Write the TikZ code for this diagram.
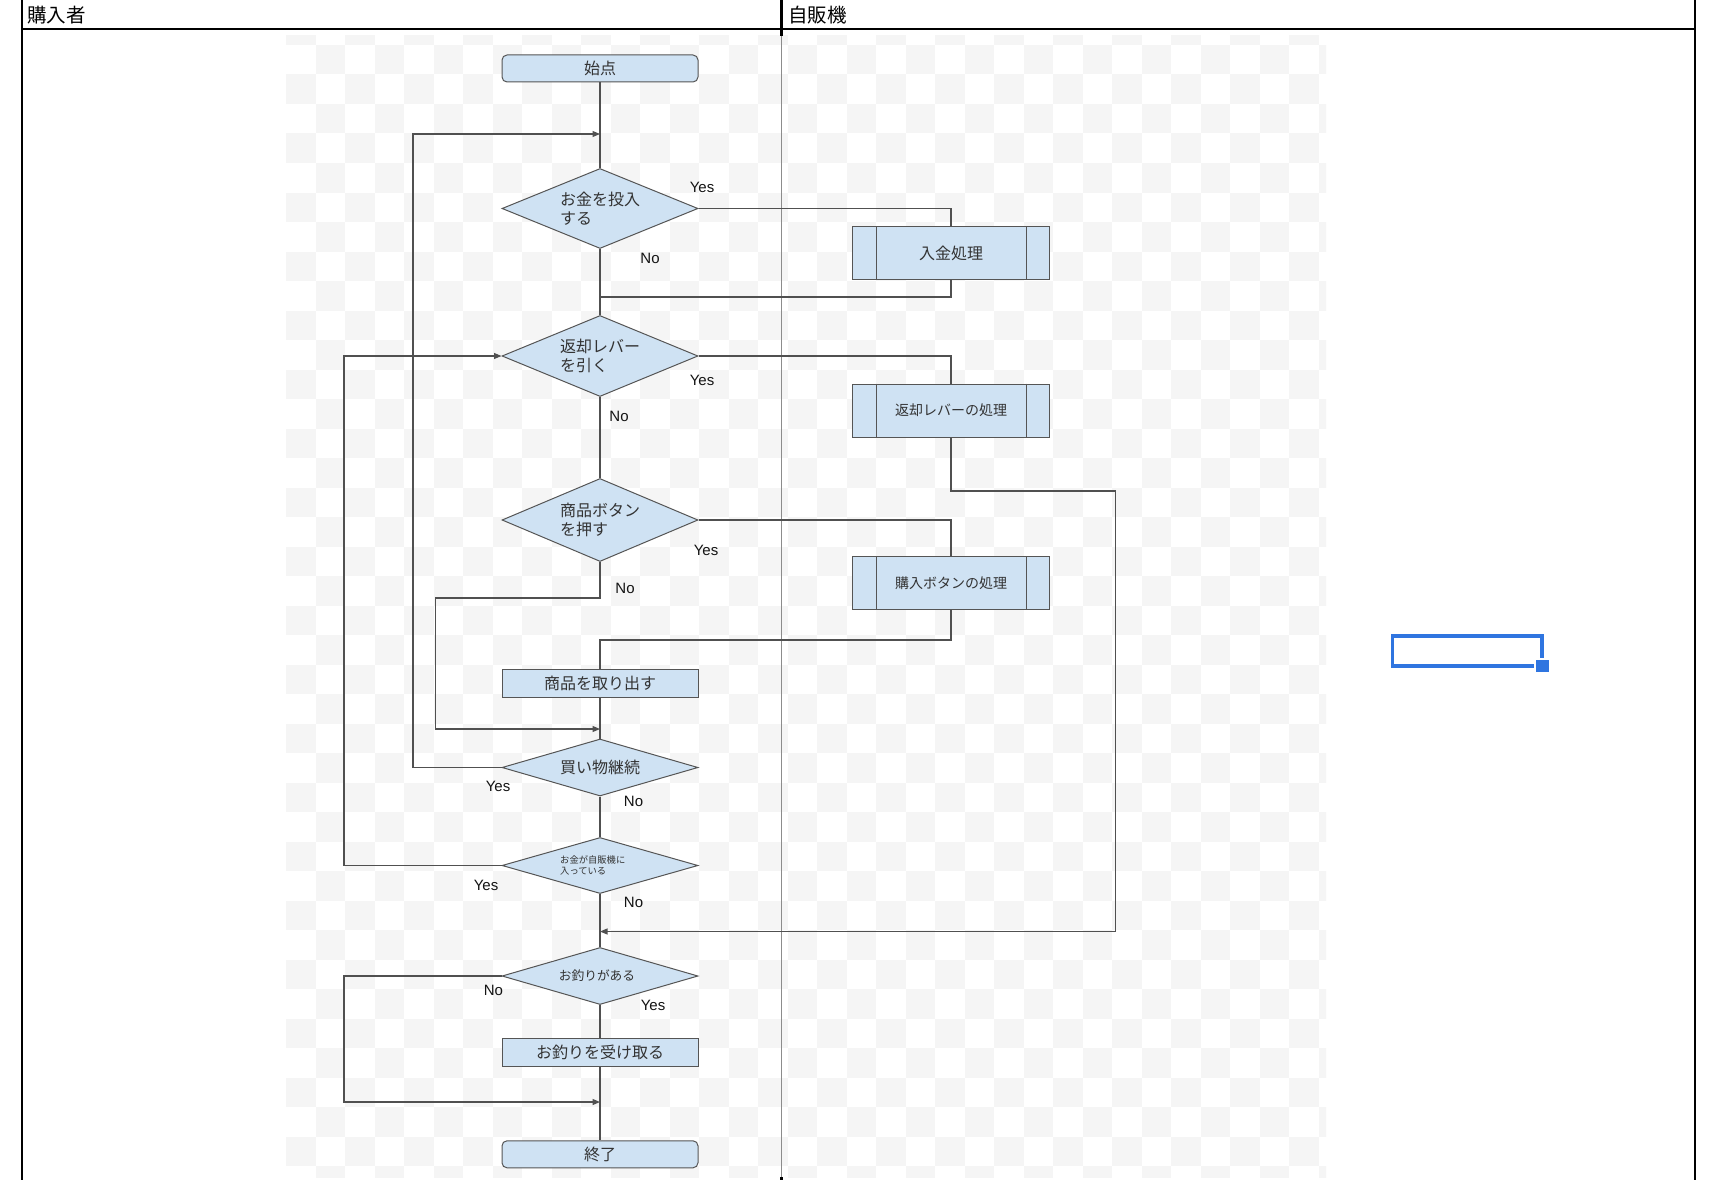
\documentclass[tikz,border=0pt]{standalone}
\usepackage{fontspec}
\setmainfont{Liberation Sans}
\newfontfamily\jp{Noto Sans CJK JP}
\usetikzlibrary{shapes.geometric,arrows.meta}
\definecolor{nfill}{RGB}{207,226,243}
\definecolor{bord}{RGB}{85,85,85}
\definecolor{lineg}{RGB}{80,80,80}
\definecolor{txt}{RGB}{51,51,51}
\definecolor{txtb}{RGB}{20,20,20}
\definecolor{chk}{RGB}{245,245,245}
\definecolor{midg}{RGB}{140,140,140}
\definecolor{selb}{RGB}{47,117,224}
\begin{document}
\begin{tikzpicture}[x=1pt,y=-1pt,
  conn/.style={draw=lineg, line width=1.1pt},
  arr/.style={conn, -{Triangle[length=7.5pt,width=6pt]}},
  base/.style={draw=bord, fill=nfill, line width=1pt, inner sep=0pt, text=txt},
  term/.style={base, rounded corners=5pt, minimum width=196pt, minimum height=27pt, font=\jp\fontsize{16}{19}\selectfont},
  boxn/.style={base, minimum width=196pt, minimum height=28pt, font=\jp\fontsize{16}{19}\selectfont},
  proc/.style={base, minimum width=197pt, minimum height=53pt},
  dia/.style={base, diamond, minimum width=196pt},
  jt/.style={font=\jp\fontsize{16}{19.5}\selectfont, text=txt, inner sep=0pt, align=left},
  yn/.style={font=\fontsize{15}{15}\selectfont, text=txtb, inner sep=0pt},
  hdr/.style={font=\jp\fontsize{19.5}{19.5}\selectfont, text=black, inner sep=0pt, anchor=west},
  border/.style={draw=black, line width=2.2pt}
]
\useasboundingbox (0,0) rectangle (1718,1180);
\fill[white] (0,0) rectangle (1718,1180);

% checkerboard image background
\begin{scope}
\clip (286,36) rectangle (1326,1177);
\foreach \r in {0,...,39} {
  \foreach \c in {0,...,35} {
    \pgfmathtruncatemacro\pp{mod(\r+\c,2)}
    \ifnum\pp=0
      \fill[chk] (286+29.5*\c,15.5+29.5*\r) rectangle +(29.5,29.5);
    \fi
  }
}
\end{scope}

% sheet borders
\draw[border] (22,0) -- (22,1180);
\draw[border] (1695,0) -- (1695,1180);
\draw[border] (22,29) -- (1695,29);
\draw[border] (781.5,0) -- (781.5,36);
\draw[border] (781.5,1177) -- (781.5,1180);
\draw[midg, line width=1.8pt] (781.5,36) -- (781.5,1177);

\node[hdr] (h1) at (27,15) {購入者};
\node[hdr] (h2) at (788,15) {自販機};

% nodes
\node[term] (start) at (600,68.5) {始点};
\node[dia, minimum height=80pt] (d1) at (600,208.5) {};
\node[jt, anchor=west] (t1) at (560,208.5) {お金を投入\\する};
\node[proc, font=\jp\fontsize{16}{19}\selectfont] (p1) at (951,253.3) {入金処理};
\node[dia, minimum height=81pt] (d2) at (600,356) {};
\node[jt, anchor=west] (t2) at (560,356) {返却レバー\\を引く};
\node[proc, font=\jp\fontsize{14}{17}\selectfont] (p2) at (951,410.5) {返却レバーの処理};
\node[dia, minimum height=83pt] (d3) at (600,520) {};
\node[jt, anchor=west] (t3) at (560,520) {商品ボタン\\を押す};
\node[proc, font=\jp\fontsize{14}{17}\selectfont] (p3) at (951,583) {購入ボタンの処理};
\node[boxn] (take) at (600,683.5) {商品を取り出す};
\node[dia, minimum height=57pt] (d4) at (600,767.5) {};
\node[jt] (t4) at (600,767.5) {買い物継続};
\node[dia, minimum height=56pt] (d5) at (600,865.5) {};
\node[jt, anchor=west, font=\jp\fontsize{9.3}{11}\selectfont] (t5) at (560,865.5) {お金が自販機に\\入っている};
\node[dia, minimum height=57pt] (d6) at (600,976) {};
\node[jt, font=\jp\fontsize{12.7}{15}\selectfont] (t6) at (597,976) {お釣りがある};
\node[boxn] (change) at (600,1052.5) {お釣りを受け取る};
\node[term] (end) at (600,1154.3) {終了};

\foreach \p in {p1,p2,p3} {
  \draw[bord, line width=1pt] ([xshift=24pt]\p.north west) -- ([xshift=24pt]\p.south west);
  \draw[bord, line width=1pt] ([xshift=-24pt]\p.north east) -- ([xshift=-24pt]\p.south east);
}

% helper coordinates
\coordinate (m1) at (600,134);
\coordinate (k1) at (413,134);
\coordinate (m2) at (600,297);
\coordinate (k2) at (344,356);
\coordinate (r1) at (1115.5,491);
\coordinate (m4) at (600,931.5);
\coordinate (m3) at (600,640);
\coordinate (n1) at (435.5,598);
\coordinate (m5) at (600,729);
\coordinate (k3) at (344,1102);
\coordinate (m6) at (600,1102);

% connectors
\draw[conn] (start.south) -- (d1.north);
\draw[arr] (d4.west) -| (k1) -- (m1);
\draw[conn] (d1.east) -| (p1.north);
\draw[conn] (d1.south) -- (d2.north);
\draw[conn] (p1.south) |- (m2);
\draw[conn] (d2.east) -| (p2.north);
\draw[conn] (d2.south) -- (d3.north);
\draw[arr] (p2.south) |- (r1) |- (m4);
\draw[conn] (d3.east) -| (p3.north);
\draw[conn] (p3.south) |- (m3) -- (take.north);
\draw[arr] (d3.south) |- (n1) |- (m5);
\draw[conn] (take.south) -- (d4.north);
\draw[conn] (d4.south) -- (d5.north);
\draw[arr] (d5.west) -| (k2) -- (d2.west);
\draw[conn] (d5.south) -- (d6.north);
\draw[conn] (d6.south) -- (change.north);
\draw[arr] (d6.west) -| (k3) -- (m6);
\draw[conn] (change.south) -- (end.north);

% Yes / No labels
\node[yn] (y1) at (702,187) {Yes};
\node[yn] (n1l) at (650,258) {No};
\node[yn] (y2) at (702,380) {Yes};
\node[yn] (n2l) at (619,416) {No};
\node[yn] (y3) at (706,550) {Yes};
\node[yn] (n3l) at (625,588) {No};
\node[yn] (y4) at (498,786) {Yes};
\node[yn] (n4l) at (633.5,801) {No};
\node[yn] (y5) at (486,885) {Yes};
\node[yn] (n5l) at (633.5,902) {No};
\node[yn] (n6l) at (493.5,990.7) {No};
\node[yn] (y6) at (653,1005.5) {Yes};

% selected cell marker
\node[draw=selb, line width=3.8pt, minimum width=149.5pt, minimum height=29.9pt, inner sep=0pt] (sel) at (1467.3,650.9) {};
\node[fill=white, minimum size=16.5pt, inner sep=0pt] (hdlw) at (1542.3,666) {};
\node[fill=selb, minimum size=12.5pt, inner sep=0pt] (hdl) at (1542.3,666) {};
\end{tikzpicture}
\end{document}
